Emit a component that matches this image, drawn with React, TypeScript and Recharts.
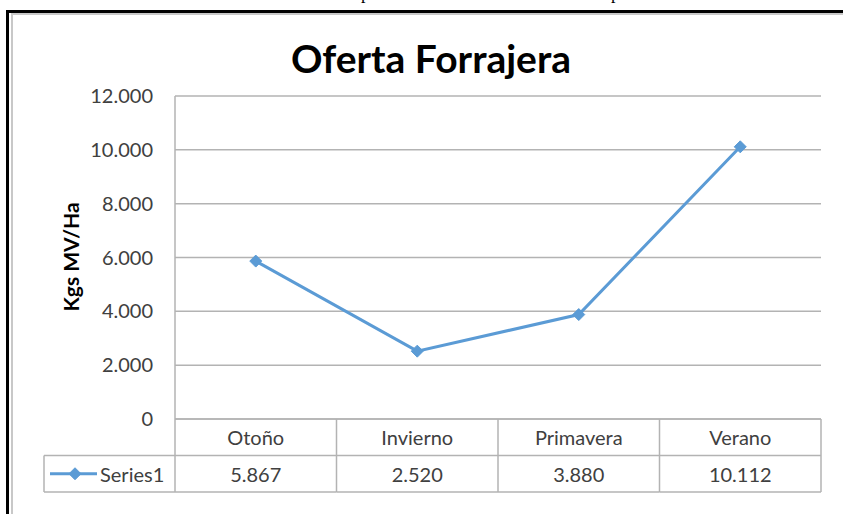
import React from 'react';
import { LineChart, Line, XAxis, YAxis, CartesianGrid } from 'recharts';

const categories = ['Otoño', 'Invierno', 'Primavera', 'Verano'];
const series1 = [5867, 2520, 3880, 10112];
const yTicks = [0, 2000, 4000, 6000, 8000, 10000, 12000];
const seriesName = 'Series1';
const title = 'Oferta Forrajera';
const yLabel = 'Kgs MV/Ha';

const data = categories.map((c, i) => ({ category: c, value: series1[i] }));

const fmt = (v: number) => String(Math.round(v)).replace(/\B(?=(\d{3})+(?!\d))/g, '.');

const W = 843;
const H = 514;
const plotLeft = 175;
const plotRight = 821;
const plotTop = 96;
const plotBottom = 419;
const xAxisH = 80;
const rowH = 36.5;
const tableLeft = 44;
const font = 'Lato, "Open Sans", sans-serif';
const textColor = '#404040';
const gridColor = '#b3b3b3';
const lineColor = '#5B9BD5';
const tickFont = 20;

const Diamond = (props: any) => {
  const { cx, cy } = props;
  if (cx == null || cy == null) return null;
  const r = 6;
  return (
    <path
      d={`M${cx},${cy - r}L${cx + r},${cy}L${cx},${cy + r}L${cx - r},${cy}Z`}
      fill={lineColor}
      stroke={lineColor}
      strokeWidth={1}
    />
  );
};

const TableTick = (props: any) => {
  const { x, payload, index } = props;
  const w = (plotRight - plotLeft) / categories.length;
  const x0 = x - w / 2;
  const x1 = x + w / 2;
  const y0 = plotBottom;
  const y1 = plotBottom + rowH;
  const y2 = plotBottom + 2 * rowH;
  const idx = categories.indexOf(payload.value);
  return (
    <g>
      {index === 0 && (
        <g>
          <line x1={x0} y1={y0} x2={x0} y2={y2} stroke={gridColor} strokeWidth={1.5} />
          <line x1={tableLeft} y1={y1} x2={x0} y2={y1} stroke={gridColor} strokeWidth={1.5} />
          <line x1={tableLeft} y1={y2} x2={x0} y2={y2} stroke={gridColor} strokeWidth={1.5} />
          <line x1={tableLeft} y1={y1} x2={tableLeft} y2={y2} stroke={gridColor} strokeWidth={1.5} />
          <line x1={tableLeft + 6} y1={(y1 + y2) / 2} x2={tableLeft + 53} y2={(y1 + y2) / 2} stroke={lineColor} strokeWidth={3} />
          <Diamond cx={tableLeft + 31} cy={(y1 + y2) / 2} />
          <text
            x={tableLeft + 56}
            y={(y1 + y2) / 2}
            dominantBaseline="central"
            fontFamily={font}
            fontSize={tickFont}
            fill={textColor}
          >
            {seriesName}
          </text>
        </g>
      )}
      <line x1={x1} y1={y0} x2={x1} y2={y2} stroke={gridColor} strokeWidth={1.5} />
      <line x1={x0} y1={y1} x2={x1} y2={y1} stroke={gridColor} strokeWidth={1.5} />
      <line x1={x0} y1={y2} x2={x1} y2={y2} stroke={gridColor} strokeWidth={1.5} />
      <text
        x={x}
        y={(y0 + y1) / 2}
        textAnchor="middle"
        dominantBaseline="central"
        fontFamily={font}
        fontSize={tickFont}
        fill={textColor}
      >
        {payload.value}
      </text>
      <text
        x={x}
        y={(y1 + y2) / 2}
        textAnchor="middle"
        dominantBaseline="central"
        fontFamily={font}
        fontSize={tickFont}
        fill={textColor}
      >
        {fmt(series1[idx])}
      </text>
    </g>
  );
};

export default function App() {
  return (
    <div style={{ position: 'absolute', left: 0, top: 0, width: W, height: H, overflow: 'hidden', background: '#fff' }}>
      {/* cropped text of surrounding document */}
      <div style={{ position: 'absolute', left: 361, top: -16, fontFamily: '"Liberation Serif", serif', fontSize: 18, lineHeight: '18px' }}>p</div>
      <div style={{ position: 'absolute', left: 611, top: -16, fontFamily: '"Liberation Serif", serif', fontSize: 18, lineHeight: '18px' }}>p</div>
      {/* chart frame */}
      <div style={{ position: 'absolute', left: 6, top: 10, width: W, height: 2.5, background: '#000' }} />
      <div style={{ position: 'absolute', left: 6, top: 10, width: 2.5, height: H, background: '#000' }} />
      <div style={{ position: 'absolute', left: 11, top: 13, width: W, height: 1.5, background: '#c8c8c8' }} />
      <div style={{ position: 'absolute', left: 11, top: 13, width: 1.5, height: H, background: '#c8c8c8' }} />
      {/* title */}
      <div
        style={{
          position: 'absolute',
          left: 0,
          width: 862,
          top: 35,
          textAlign: 'center',
          fontFamily: font,
          fontWeight: 700,
          fontSize: 39,
          lineHeight: '46px',
          color: '#000',
        }}
      >
        {title}
      </div>
      {/* y label */}
      <div
        style={{
          position: 'absolute',
          left: 70,
          top: 257,
          transform: 'translate(-50%, -50%) rotate(-90deg)',
          fontFamily: font,
          fontWeight: 700,
          fontSize: 21,
          whiteSpace: 'nowrap',
          color: '#000',
        }}
      >
        {yLabel}
      </div>
      <div style={{ position: 'absolute', left: 0, top: 0 }}>
        <LineChart
          width={W}
          height={H}
          data={data}
          margin={{ top: plotTop, right: W - plotRight, bottom: H - plotBottom - xAxisH, left: plotLeft - 60 }}
        >
          <CartesianGrid horizontal vertical={false} stroke={gridColor} strokeWidth={1.5} />
          <XAxis
            dataKey="category"
            scale="band"
            axisLine={{ stroke: gridColor, strokeWidth: 1.5 }}
            tickLine={false}
            tick={<TableTick />}
            height={xAxisH}
            interval={0}
          />
          <YAxis
            width={60}
            domain={[0, 12000]}
            ticks={yTicks}
            tickFormatter={fmt}
            axisLine={{ stroke: gridColor, strokeWidth: 1.5 }}
            tickLine={false}
            tickSize={0}
            tickMargin={22}
            tick={{ fontFamily: font, fontSize: tickFont, fill: textColor }}
            interval={0}
          />
          <Line
            dataKey="value"
            stroke={lineColor}
            strokeWidth={3}
            dot={<Diamond />}
            activeDot={false}
            isAnimationActive={false}
          />
        </LineChart>
      </div>
    </div>
  );
}
